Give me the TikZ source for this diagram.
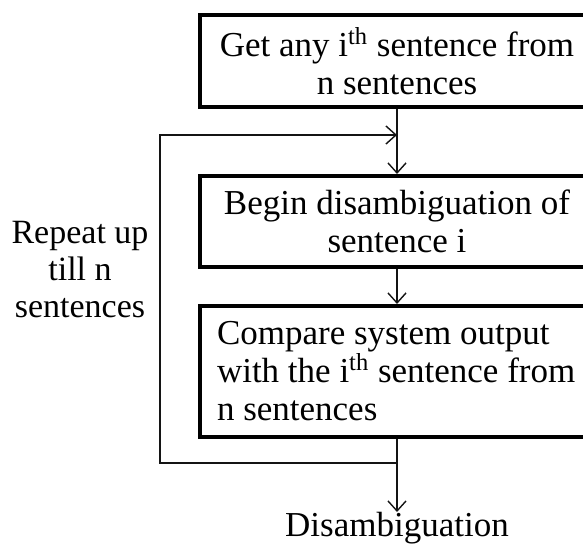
\documentclass[tikz,border=0pt]{standalone}
\usepackage{fontspec}
\setmainfont{Liberation Serif}
\usepackage{xcolor}
\usetikzlibrary{positioning,arrows.meta,calc}
\definecolor{inkline}{RGB}{20,20,20}

\begin{document}
\begin{tikzpicture}[x=0.5pt,y=-0.5pt,
  stepbox/.style={draw=black,line width=2pt,inner sep=0pt,
                  minimum width=197pt,font=\fontsize{17.5}{19}\selectfont},
  flow/.style={draw=inkline,line width=0.7pt,-{Straight Barb[length=5pt,width=9pt]}},
  plain/.style={draw=inkline,line width=0.7pt}]
\clip (0,0) rectangle (583,545);
\useasboundingbox (0,0) rectangle (583,545);
% boxes
\node[stepbox,minimum height=46pt,align=center] (get) at (397,61)
  {Get any i\textsuperscript{th} sentence from\\n sentences};
\node[stepbox,minimum height=45.5pt,align=center] (begin) at (397,221.5)
  {Begin disambiguation of\\sentence i};
\node[stepbox,minimum height=65.5pt,align=flush left,text width=180pt] (cmp) at (397,371.5)
  {Compare system output\\with the i\textsuperscript{th} sentence from\\n sentences};
% output and loop label
\node[inner sep=0pt,anchor=north,font=\fontsize{17.5}{19}\selectfont] (result) at (397,512) {Disambiguation};
\node[align=center,inner sep=0pt,font=\fontsize{17}{18.5}\selectfont] (repeat) at (80,270)
  {Repeat up\\till n\\sentences};
% connectors
\coordinate (loopin) at (397,135);
\coordinate (loopout) at (397,463);
\draw[flow] (get.south) -- (begin.north);
\draw[flow] (begin.south) -- (cmp.north);
\draw[plain] (cmp.south) -- (loopout);
\draw[flow] (loopout) -- (result.north);
\draw[flow] (loopout) -- (160,463) -- (160,135) -- (loopin);
\end{tikzpicture}
\end{document}
